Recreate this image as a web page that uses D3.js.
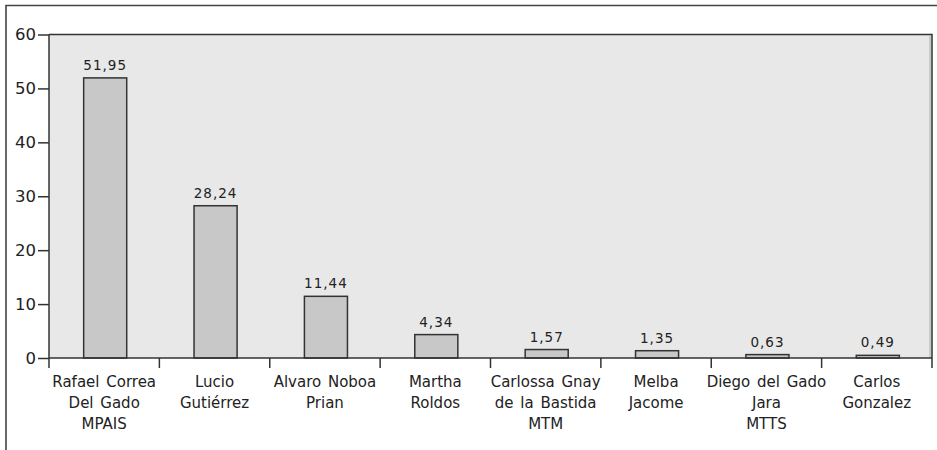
<!DOCTYPE html>
<html>
<head>
<meta charset="utf-8">
<script src="https://cdn.jsdelivr.net/npm/d3@7"></script>
<style>
  html, body { margin: 0; padding: 0; background: #fff; }
  svg { display: block; font-family: "DejaVu Sans", Verdana, sans-serif; }
</style>
</head>
<body>
<svg id="chart" width="937" height="450"></svg>
<script>
// Candidates (label lines separated by "\n") and their vote share in percent
const candidates = [
  "Rafael Correa\nDel Gado\nMPAIS",
  "Lucio\nGutiérrez",
  "Alvaro Noboa\nPrian",
  "Martha\nRoldos",
  "Carlossa Gnay\nde la Bastida\nMTM",
  "Melba\nJacome",
  "Diego del Gado\nJara\nMTTS",
  "Carlos\nGonzalez"
];
const votes = [51.95, 28.24, 11.44, 4.34, 1.57, 1.35, 0.63, 0.49];
const valueLabels = ["51,95", "28,24", "11,44", "4,34", "1,57", "1,35", "0,63", "0,49"];
const yTicks = [0, 10, 20, 30, 40, 50, 60];

const svg = d3.select("#chart");
const plot = { left: 49, right: 932, top: 34.5, bottom: 358 };

// Outer frame (top and left edges)
svg.append("path")
  .attr("d", "M6,450 V5.5 H937")
  .attr("fill", "none")
  .attr("stroke", "#444")
  .attr("stroke-width", 1.6);

const x = d3.scaleBand()
  .domain(candidates)
  .range([plot.left, plot.right])
  .padding(0);

const y = d3.scaleLinear()
  .domain([0, 60])
  .range([plot.bottom, plot.top]);

// Plot background
svg.append("rect")
  .attr("x", plot.left)
  .attr("y", plot.top)
  .attr("width", plot.right - plot.left)
  .attr("height", plot.bottom - plot.top)
  .attr("fill", "#e8e8e8");

// Top and right borders of the plot area
svg.append("path")
  .attr("d", `M${plot.left},${plot.top} H${plot.right} V${plot.bottom}`)
  .attr("fill", "none")
  .attr("stroke", "#333")
  .attr("stroke-width", 1.5);
svg.append("line")
  .attr("x1", plot.right - 2).attr("x2", plot.right - 2)
  .attr("y1", plot.top + 1).attr("y2", plot.bottom)
  .attr("stroke", "#aaa")
  .attr("stroke-width", 1);

// Bars
const barW = x.bandwidth() * 0.39;
svg.append("g")
  .selectAll("rect")
  .data(votes)
  .join("rect")
  .attr("x", (d, i) => x(candidates[i]) + x.bandwidth() / 2 - barW / 2 + 1)
  .attr("y", d => y(d))
  .attr("width", barW)
  .attr("height", d => y(0) - y(d))
  .attr("fill", "#c8c8c8")
  .attr("stroke", "#333")
  .attr("stroke-width", 1.5);

// Value labels above bars
svg.append("g")
  .selectAll("text")
  .data(votes)
  .join("text")
  .attr("x", (d, i) => x(candidates[i]) + x.bandwidth() / 2 + 1)
  .attr("y", d => y(d) - 8)
  .attr("text-anchor", "middle")
  .attr("font-size", 13.5)
  .attr("letter-spacing", 1)
  .attr("fill", "#222")
  .text((d, i) => valueLabels[i]);

// Y axis
const yAxis = svg.append("g")
  .attr("transform", `translate(${plot.left},0)`)
  .call(d3.axisLeft(y).tickValues(yTicks).tickSize(11).tickPadding(2).tickFormat(d3.format("d")));
yAxis.selectAll("path, line").attr("stroke", "#333").attr("stroke-width", 1.5);
yAxis.select(".domain").attr("d", `M0,${plot.top}V${plot.bottom}`);
yAxis.selectAll("text")
  .attr("font-size", 16.5)
  .attr("font-family", "DejaVu Sans, sans-serif")
  .attr("fill", "#222");

// X axis: baseline, boundary ticks, multi-line labels
svg.append("line")
  .attr("x1", plot.left).attr("x2", plot.right)
  .attr("y1", plot.bottom).attr("y2", plot.bottom)
  .attr("stroke", "#333").attr("stroke-width", 1.5);

const boundaries = candidates.map(c => x(c)).concat([x.range()[1]]);
svg.append("g")
  .selectAll("line")
  .data(boundaries)
  .join("line")
  .attr("x1", d => d).attr("x2", d => d)
  .attr("y1", plot.bottom).attr("y2", plot.bottom + 10)
  .attr("stroke", "#333").attr("stroke-width", 1.5);

const xLabels = svg.append("g")
  .selectAll("text")
  .data(candidates)
  .join("text")
  .attr("text-anchor", "middle")
  .attr("font-size", 15)
  .attr("word-spacing", 2)
  .attr("fill", "#222")
  .attr("transform", d => `translate(${x(d) + x.bandwidth() / 2},387)`);
xLabels.selectAll("tspan")
  .data(d => d.split("\n"))
  .join("tspan")
  .attr("x", 0)
  .attr("y", (d, i) => i * 21)
  .text(d => d);
</script>
</body>
</html>
